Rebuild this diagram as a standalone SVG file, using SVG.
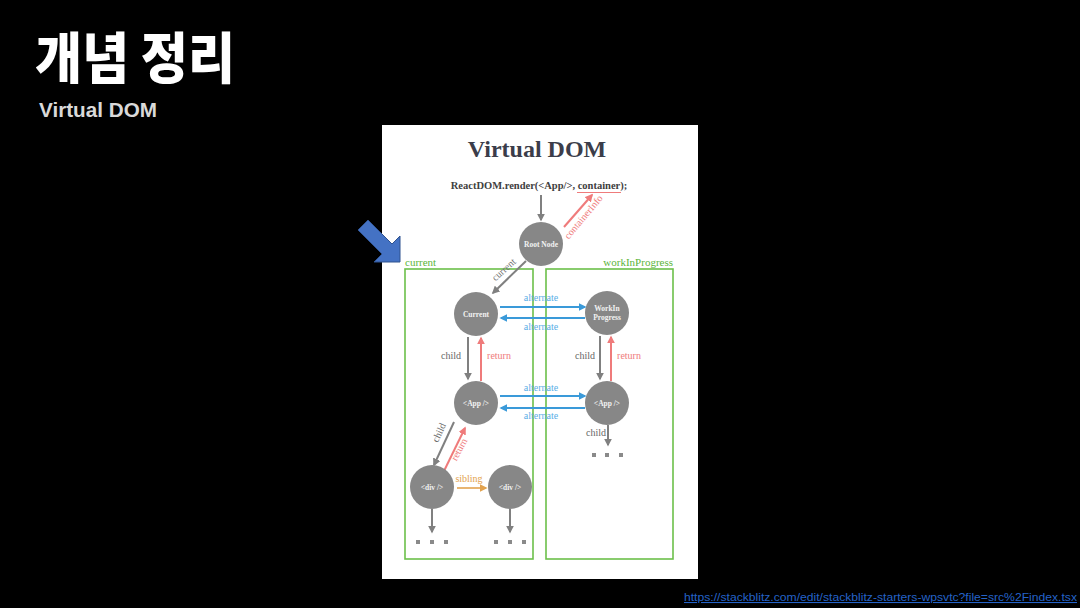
<svg xmlns="http://www.w3.org/2000/svg" width="1080" height="608" viewBox="0 0 1080 608">
<defs>
<style>
.node circle{fill:#878787}
.nt{font-family:"Liberation Serif",serif;font-weight:bold;font-size:7.5px;fill:#f2f2f2;text-anchor:middle}
.lbl{font-family:"Liberation Serif",serif;font-size:10px;text-anchor:middle}
.g{stroke:#808080;stroke-width:2;fill:none}
.r{stroke:#ef7b7b;stroke-width:2;fill:none}
.b{stroke:#3a9ad9;stroke-width:2;fill:none}
.o{stroke:#e2a24e;stroke-width:1.6;fill:none}
.box{fill:none;stroke:#6cc04a;stroke-width:1.6}
.dot{fill:#8a8a8a}
</style>
<marker id="mg" viewBox="0 0 10 10" refX="8" refY="5" markerWidth="8" markerHeight="8" markerUnits="userSpaceOnUse" orient="auto"><path d="M0,0L10,5L0,10z" fill="#808080"/></marker>
<marker id="mr" viewBox="0 0 10 10" refX="8" refY="5" markerWidth="8" markerHeight="8" markerUnits="userSpaceOnUse" orient="auto"><path d="M0,0L10,5L0,10z" fill="#ef7b7b"/></marker>
<marker id="mb" viewBox="0 0 10 10" refX="8" refY="5" markerWidth="8" markerHeight="8" markerUnits="userSpaceOnUse" orient="auto"><path d="M0,0L10,5L0,10z" fill="#3a9ad9"/></marker>
<marker id="mo" viewBox="0 0 10 10" refX="8" refY="5" markerWidth="8" markerHeight="8" markerUnits="userSpaceOnUse" orient="auto"><path d="M0,0L10,5L0,10z" fill="#e2a24e"/></marker>
</defs>
<rect width="1080" height="608" fill="#000"/>
<text x="35" y="78" font-family="'Noto Sans CJK KR',sans-serif" font-weight="900" font-size="55" fill="#fff" textLength="200" lengthAdjust="spacingAndGlyphs">개념 정리</text>
<text x="39" y="117" font-family="'Liberation Sans',sans-serif" font-weight="bold" font-size="21" fill="#d9d9d9" textLength="118" lengthAdjust="spacingAndGlyphs">Virtual DOM</text>

<rect x="382" y="125" width="316" height="454" fill="#fff"/>
<text x="537" y="157" font-family="'Liberation Serif',serif" font-weight="bold" font-size="24" fill="#3b3d4a" text-anchor="middle">Virtual DOM</text>
<text x="539" y="189" font-family="'Liberation Serif',serif" font-weight="bold" font-size="10.5" fill="#404040" text-anchor="middle">ReactDOM.render(&lt;App/&gt;, container);</text>
<line x1="577" y1="192.5" x2="621" y2="192.5" stroke="#ef7b7b" stroke-width="1"/>

<polygon points="368,220 392,244 400,236 400,262 374,262 382,254 358,230" fill="#4472c4" stroke="#2f528f" stroke-width="1"/>

<g id="boxes">
<rect class="box" x="405" y="269" width="128" height="290"/>
<rect class="box" x="546" y="269" width="127" height="290"/>
<text x="405" y="266" font-family="'Liberation Serif',serif" font-size="11" fill="#5bb53a">current</text>
<text x="673" y="266" font-family="'Liberation Serif',serif" font-size="11" fill="#5bb53a" text-anchor="end">workInProgress</text>
</g>

<g id="connectors">
<line class="g" x1="541" y1="195" x2="541" y2="220" marker-end="url(#mg)"/>
<line class="r" x1="564" y1="227" x2="592" y2="195" marker-end="url(#mr)"/>
<text class="lbl" x="586" y="219" fill="#ef7b7b" transform="rotate(-50 586 219)">containerInfo</text>
<line class="g" x1="526" y1="261" x2="493" y2="293" marker-end="url(#mg)"/>
<text class="lbl" x="506" y="272" fill="#707070" transform="rotate(-42 506 272)">current</text>

<line class="b" x1="500" y1="307" x2="585" y2="307" marker-end="url(#mb)"/>
<line class="b" x1="585" y1="318" x2="501" y2="318" marker-end="url(#mb)"/>
<text class="lbl" x="541" y="301" fill="#5aaee6">alternate</text>
<text class="lbl" x="541" y="330" fill="#5aaee6">alternate</text>

<line class="g" x1="468" y1="337" x2="468" y2="379" marker-end="url(#mg)"/>
<line class="r" x1="481" y1="381" x2="481" y2="338" marker-end="url(#mr)"/>
<text class="lbl" x="451" y="359" fill="#666">child</text>
<text class="lbl" x="499" y="359" fill="#ef7b7b">return</text>

<line class="g" x1="600" y1="336" x2="600" y2="379" marker-end="url(#mg)"/>
<line class="r" x1="611" y1="381" x2="611" y2="337" marker-end="url(#mr)"/>
<text class="lbl" x="585" y="359" fill="#666">child</text>
<text class="lbl" x="629" y="359" fill="#ef7b7b">return</text>

<line class="b" x1="500" y1="396" x2="585" y2="396" marker-end="url(#mb)"/>
<line class="b" x1="585" y1="408" x2="501" y2="408" marker-end="url(#mb)"/>
<text class="lbl" x="541" y="391" fill="#5aaee6">alternate</text>
<text class="lbl" x="541" y="419" fill="#5aaee6">alternate</text>

<line class="g" x1="608" y1="425" x2="608" y2="445" marker-end="url(#mg)"/>
<text class="lbl" x="596" y="436" fill="#666">child</text>

<line class="g" x1="454" y1="422" x2="434" y2="465" marker-end="url(#mg)"/>
<text class="lbl" x="442" y="434" fill="#666" transform="rotate(-65 442 434)">child</text>
<line class="r" x1="444" y1="471" x2="465" y2="428" marker-end="url(#mr)"/>
<text class="lbl" x="462" y="451" fill="#ef7b7b" transform="rotate(-62 462 451)">return</text>

<line class="o" x1="457" y1="488" x2="486" y2="488" marker-end="url(#mo)"/>
<text class="lbl" x="469" y="482" fill="#e2a24e">sibling</text>

<line class="g" x1="432" y1="509" x2="432" y2="532" marker-end="url(#mg)"/>
<line class="g" x1="510" y1="509" x2="510" y2="532" marker-end="url(#mg)"/>
</g>

<g id="dots">
<rect class="dot" x="416" y="540" width="4" height="4"/><rect class="dot" x="430" y="540" width="4" height="4"/><rect class="dot" x="444" y="540" width="4" height="4"/>
<rect class="dot" x="494" y="540" width="4" height="4"/><rect class="dot" x="508" y="540" width="4" height="4"/><rect class="dot" x="522" y="540" width="4" height="4"/>
<rect class="dot" x="592" y="453" width="4" height="4"/><rect class="dot" x="605" y="453" width="4" height="4"/><rect class="dot" x="619" y="453" width="4" height="4"/>
</g>

<g id="root" class="node"><circle cx="541" cy="244" r="22"/><text class="nt" x="541" y="246.5">Root Node</text></g>
<g id="current" class="node"><circle cx="476" cy="314" r="22"/><text class="nt" x="476" y="316.5">Current</text></g>
<g id="wip" class="node"><circle cx="607" cy="313" r="22"/><text class="nt" x="607" y="311">WorkIn</text><text class="nt" x="607" y="320">Progress</text></g>
<g id="app-left" class="node"><circle cx="476" cy="403" r="22"/><text class="nt" x="476" y="405.5">&lt;App /&gt;</text></g>
<g id="app-right" class="node"><circle cx="607" cy="403" r="22"/><text class="nt" x="607" y="405.5">&lt;App /&gt;</text></g>
<g id="div-left" class="node"><circle cx="432" cy="487" r="22"/><text class="nt" x="432" y="489.5">&lt;div /&gt;</text></g>
<g id="div-right" class="node"><circle cx="510" cy="487" r="22"/><text class="nt" x="510" y="489.5">&lt;div /&gt;</text></g>

<text x="684" y="601" font-family="'Liberation Sans',sans-serif" font-size="10.5" fill="#2563c8" text-decoration="underline" textLength="393" lengthAdjust="spacingAndGlyphs">https://stackblitz.com/edit/stackblitz-starters-wpsvtc?file=src%2Findex.tsx</text>
</svg>
